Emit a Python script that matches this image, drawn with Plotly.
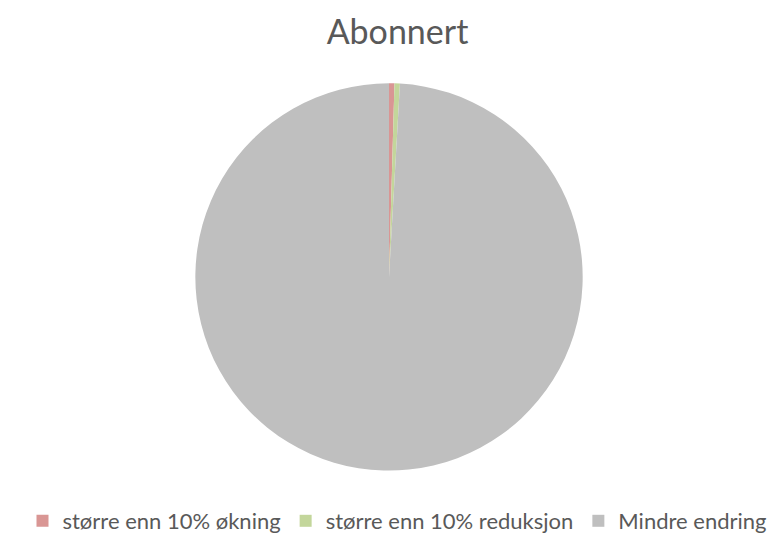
import plotly.graph_objects as go

labels = ["større enn 10% økning", "større enn 10% reduksjon", "Mindre endring"]
values = [0.45, 0.45, 99.1]
colors = ["#D99694", "#C3D69B", "#BFBFBF"]

fig = go.Figure(go.Pie(
    labels=labels,
    values=values,
    marker=dict(colors=colors, line=dict(width=0)),
    sort=False,
    direction="clockwise",
    rotation=0,
    textinfo="none",
    hoverinfo="label+percent",
    domain=dict(x=[0.2381, 0.7401], y=[0.1255, 0.8577]),
))

fig.update_layout(
    width=779, height=534,
    margin=dict(l=0, r=0, t=0, b=0),
    paper_bgcolor="white",
    font=dict(family="Lato", color="#595959"),
    title=dict(text="Abonnert", x=0.5, xanchor="center", y=0.955, yanchor="middle",
               font=dict(size=34, color="#595959", family="Lato")),
    legend=dict(orientation="h", x=0.5, xanchor="center", y=0.03, yanchor="middle",
                font=dict(size=22, color="#595959"), itemwidth=30,
                traceorder="normal"),
)

fig.write_html("out.html")
